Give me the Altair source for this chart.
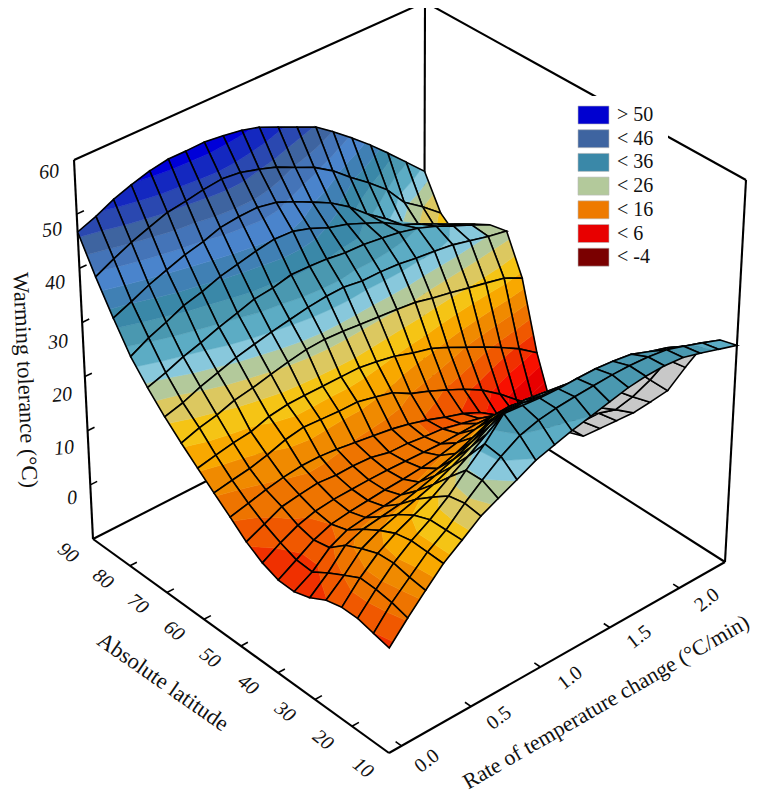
import altair as alt
import numpy as np

W, H = 755, 785

latitudes = [90, 85.8, 81.6, 77.4, 73.2, 68.9, 64.7, 60.5, 56.3, 52.1, 47.9, 43.7, 39.5, 35.3, 31.1, 26.8, 22.6, 18.4, 14.2, 10]
rates = [-0.09, 0.04, 0.165, 0.29, 0.42, 0.55, 0.67, 0.80, 0.93, 1.06, 1.18, 1.31, 1.44, 1.57, 1.69, 1.82, 1.95, 2.07, 2.20, 2.33]

row_00 = [46.7,48,49.6,50.8,51.8,52.4,52.4,52.5,52.1,51.5,50.6,49,47.4,45.8,43.4,40.6,37.6,34.6,31.2,27.8]
row_01 = [40.4,42.1,43.6,44.8,46,46.5,47.1,47.5,47.1,46.1,45,43.3,41.7,39.4,36.7,34,31,27.1,24.6,21.7]
row_02 = [34.8,36.2,37.7,38.9,40.1,40.9,42,42.4,42.5,41.8,40.4,38.7,36.9,34.5,31.7,29.1,26.2,24.2,21.5,19.2]
row_03 = [29.7,31.5,32.8,34.3,35.2,36.4,37.1,37.9,38.5,38.3,37.3,35.8,34.8,33.3,31.9,29.8,28.3,26.7,25,23.3]
row_04 = [26,27.1,28.4,29.4,30.6,31.6,32.6,33,33.8,33.7,33.5,33,32.9,32.4,31.9,31,29.7,28.2,26.7,25]
row_05 = [22.7,23.6,24.9,25.9,27,27.8,28.5,29.1,29.7,30.1,30.2,29.7,29.7,29.5,29,28.6,28.1,27.3,26.4,25.7]
row_06 = [19.9,21,21.7,22.8,23.4,24.2,24.9,25.5,25.7,25.5,25.2,24.9,24.6,24.2,23.4,22.7,21.9,21.2,20.4,18.7]
row_07 = [17.3,18,18.6,19,20.1,20.6,20.7,20.7,20.7,20.7,20.2,19.5,18.4,17.5,16.1,14.4,12.7,11,9,6.5]
row_08 = [14.8,15.4,15.9,16.7,17.8,18.4,18.2,18,18,17.2,16.4,14.5,13.2,11.7,10.2,8.3,5.8,3.1,0.4,-2]
row_09 = [12.4,13.2,14,14.6,15,15,14.7,14.2,13.7,13.2,12.5,11.5,10.3,9.2,7.8,5.5,3.8,1,-2,-4.6]
row_10 = [9.9,11.4,12.9,13.4,13.8,13.5,13.6,13.4,12.6,12.5,12.1,11.8,11,10.2,9.2,7.7,5.6,3.1,0.1,-3.5]
row_11 = [8.1,10,11.5,12.4,12.8,12.9,13,13,12.9,12.8,12.7,12.8,12.9,12.6,11.5,9.5,7.5,5,2.9,-0.2]
row_12 = [7,8.9,10.8,12,12.5,12.8,13.1,13.3,13.6,14.1,14.8,15.5,16.3,16.3,14.5,12.3,10,8,6.3,3.1]
row_13 = [6.9,8.7,11.4,12.9,13.4,13.7,14.1,14.7,15.4,16.4,17.7,19.2,19.9,19.2,17.2,14.9,13,11,8.8,6.4]
row_14 = [7.8,10.5,13.8,15,15.5,16,16.8,17.8,19,20.5,22.2,23.1,22.8,22,21,19,17.5,16,13,10.2]
row_15 = [9.4,12.1,15.2,16.8,17.9,18.9,19.9,21.4,23.1,25.1,26.6,26.6,26.1,25.6,25.1,24.1,23.1,21.9,18,14.2]
row_16 = [10.1,13.6,16.3,18.2,19.7,21.2,23.2,25.2,27.5,29.7,29.7,29.2,28.7,28.2,28,27.7,26.7,25.7,23.5,20.3]
row_17 = [10.1,13.5,16.5,18.8,20.8,23.3,26.3,29.3,33,32.7,32.4,32.3,32.4,32.4,32.1,31.6,30.3,29.3,27.8,26.1]
row_18 = [9.4,13.1,15.9,18.7,20.9,23.9,26.4,28.9,30.9,31.9,32.4,32.7,32.9,33.1,33.1,32.9,32.4,31.4,30.2,28.9]
row_19 = [8.75,12.3,15.5,18.6,21,23.5,25,26.6,28.3,29.3,30.2,31,31.8,32.6,33,33.1,32.8,31.9,30.8,29.7]
surface = [row_00,row_01,row_02,row_03,row_04,row_05,row_06,row_07,row_08,row_09,
           row_10,row_11,row_12,row_13,row_14,row_15,row_16,row_17,row_18,row_19]

band_edges = [-20,-4,-1,2,4.5,7,9.5,12,14.5,17,19.5,22,24.5,26.5,28.5,31,33.5,36,38.5,41,43.5,46,48.5,51,90]
band_colors = ["#7a0000","#d80000","#e00000","#e80000","#f81000","#f03000","#f05800","#ee7400","#f08a00",
               "#f8a800","#f5c415","#dcc860","#b3c99b","#88c8dc","#5cacc4","#4a98b0","#3a88a8","#4080b4",
               "#4a84cc","#4474b8","#3e64a0","#2a48b0","#1428c0","#0000d8"]
underside = "#c8c8c8"

z_ticks = [0, 10, 20, 30, 40, 50]
lat_ticks = [20, 30, 40, 50, 60, 70, 80]
rate_ticks = [0.0, 0.5, 1.0, 1.5, 2.0]

legend_labels = ["> 50", "< 46", "< 36", "< 26", "< 16", "< 6", "< -4"]
legend_colors = ["#0000d0", "#3e64a0", "#3a88a8", "#b3c99b", "#ee7a00", "#e80000", "#7a0000"]

# the eight corners of the box as they lie on the page: (rate end, latitude end, z end)
rate_lo, rate_hi = -0.09, 2.33
lat_lo, lat_hi = 10, 90
z_lo, z_hi = -10, 60
corner = {(0,0,0):(389,753),(1,0,0):(725,562),(0,1,0):(93,539),(1,1,0):(424,370),
          (0,0,1):(390,361),(1,0,1):(746,180),(0,1,1):(74,160),(1,1,1):(425,2)}

def proj(rate, lat, z):
    u = (rate-rate_lo)/(rate_hi-rate_lo); v = (lat-lat_lo)/(lat_hi-lat_lo); w = (z-z_lo)/(z_hi-z_lo)
    x = y = 0.0
    for (a, b, c), (px, py) in corner.items():
        f = (u if a else 1-u)*(v if b else 1-v)*(w if c else 1-w)
        x += f*(px-8); y += f*(py-8)
    return [x, y]

def feature(kind, coords, fill, stroke, sw):
    return {"type":"Feature","geometry":{"type":kind,"coordinates":coords},
            "properties":{"fill":fill,"stroke":stroke,"sw":sw}}

def line(a, b_, sw=2.1):
    return feature("LineString",[proj(*a),proj(*b_)],"none","#000000",sw)

features = []
box = [((rate_lo,lat_hi,z_lo),(rate_lo,lat_hi,z_hi)),((rate_lo,lat_hi,z_hi),(rate_hi,lat_hi,z_hi)),
       ((rate_hi,lat_hi,z_hi),(rate_hi,lat_lo,z_hi)),((rate_hi,lat_lo,z_hi),(rate_hi,lat_lo,z_lo)),
       ((rate_hi,lat_hi,z_lo),(rate_hi,lat_hi,z_hi)),((rate_lo,lat_hi,z_lo),(rate_hi,lat_hi,z_lo)),
       ((rate_hi,lat_hi,z_lo),(rate_hi,lat_lo,z_lo)),((rate_lo,lat_lo,z_lo),(rate_hi,lat_lo,z_lo)),
       ((rate_lo,lat_lo,z_lo),(rate_lo,lat_hi,z_lo))]
features += [line(a, c) for a, c in box]
for v in z_ticks:
    features.append(line((rate_lo,lat_hi,v),(rate_lo+0.05,lat_hi,v),1.6))
for v in lat_ticks:
    features.append(line((rate_lo,v,z_lo),(rate_lo+0.05,v,z_lo),1.6))
for v in rate_ticks:
    features.append(line((v,lat_lo,z_lo),(v,lat_lo+1.6,z_lo),1.6))

def clip(poly, lo, hi):
    def cut(pts, keep, level):
        out = []
        for k in range(len(pts)):
            p, q = pts[k], pts[(k+1) % len(pts)]
            kp, kq = keep(p[2]), keep(q[2])
            if kp:
                out.append(p)
            if kp != kq:
                f = (level-p[2])/(q[2]-p[2])
                out.append([p[0]+f*(q[0]-p[0]), p[1]+f*(q[1]-p[1]), level])
        return out
    pts = cut(poly, lambda z: z >= lo, lo)
    return cut(pts, lambda z: z <= hi, hi) if pts else []

def signed(q):
    return sum(q[k][0]*q[(k+1)%4][1]-q[(k+1)%4][0]*q[k][1] for k in range(4))

flat = [proj(rate_lo,lat_hi,0),proj(rate_hi,lat_hi,0),proj(rate_hi,lat_lo,0),proj(rate_lo,lat_lo,0)]
up = np.sign(signed(flat))
mesh = 1.6

for j in range(len(latitudes)-1):
    for i in range(len(rates)-2, -1, -1):
        idx = [(j,i),(j,i+1),(j+1,i+1),(j+1,i)]
        q = [proj(rates[c], latitudes[r], surface[r][c])+[surface[r][c]] for r, c in idx]
        ring = [[p[0],p[1]] for p in q]
        if np.sign(signed(q)) != up:
            features.append(feature("Polygon",[ring+[ring[0]]],underside,"#000000",mesh))
            continue
        for k, col in enumerate(band_colors):
            pts = clip(q, band_edges[k], band_edges[k+1])
            if len(pts) >= 3:
                r_ = [[p[0],p[1]] for p in pts]
                features.append(feature("Polygon",[r_+[r_[0]]],col,col,0.5))
        features.append(feature("Polygon",[ring+[ring[0]]],"none","#000000",mesh))

shape = alt.Chart(alt.Data(values=features)).mark_geoshape().encode(
    fill=alt.Fill("properties.fill:N", scale=None, legend=None),
    stroke=alt.Stroke("properties.stroke:N", scale=None, legend=None),
    strokeWidth=alt.StrokeWidth("properties.sw:Q", scale=None, legend=None),
).project(type="identity", scale=1, translate=[0, 0])

xs = alt.Scale(domain=[0, W], range=[0, W])
ys = alt.Scale(domain=[0, H], range=[0, H])

def texts(rows, italic=False, align="center"):
    data = [{"t":t,"x":x-8,"y":y-8,"a":a%360,"s":s} for t,x,y,a,s in rows]
    return alt.Chart(alt.Data(values=data)).mark_text(
        font="Liberation Serif", align=align, baseline="middle", color="#111111",
        fontStyle="italic" if italic else "normal"
    ).encode(
        x=alt.X("x:Q", scale=xs, axis=None), y=alt.Y("y:Q", scale=ys, axis=None),
        text="t:N", angle=alt.Angle("a:Q", scale=None), size=alt.Size("s:Q", scale=None, legend=None))

z_label_xy = [(72,498),(64,448),(62,395),(58,342),(55,283),(52,230),(49,172)]
z_rows = [(str(v),x,y,-6,20) for v,(x,y) in zip([0,10,20,30,40,50,60],z_label_xy)]
lat_label_xy = [(363,768),(323,740),(285,712),(248,685),(210,658),(174,631),(138,604),(103,579),(68,553)]
lat_rows = [(str(v),x,y,38,20) for v,(x,y) in zip([10,20,30,40,50,60,70,80,90],lat_label_xy)]
rate_label_xy = [(427,761),(499,718),(570,678),(639,637),(707,600)]
rate_rows = [(f"{v:.1f}",x,y,-38,20) for v,(x,y) in zip(rate_ticks,rate_label_xy)]
titles = [("Warming tolerance (°C)",25,380,87.5,22.5),("Absolute latitude",163,682,35,22.5),
          ("Rate of temperature change (°C/min)",606,702,-30,22)]
leg_rows = [(t,617,115+23.7*k,0,20) for k,t in enumerate(legend_labels)]

leg_back = alt.Chart(alt.Data(values=[{"x":570-8,"x2":668-8,"y":96-8,"y2":270-8}])).mark_rect(color="white").encode(
    x=alt.X("x:Q", scale=xs, axis=None), x2="x2:Q", y=alt.Y("y:Q", scale=ys, axis=None), y2="y2:Q")
leg_data = [{"x":578-8,"x2":609-8,"y":106-8+23.7*k,"y2":124-8+23.7*k,"c":c} for k,c in enumerate(legend_colors)]
swatches = alt.Chart(alt.Data(values=leg_data)).mark_rect(stroke="#b8b8b8", strokeWidth=0.6).encode(
    x=alt.X("x:Q", scale=xs, axis=None), x2="x2:Q", y=alt.Y("y:Q", scale=ys, axis=None), y2="y2:Q",
    fill=alt.Fill("c:N", scale=None, legend=None))

chart = alt.layer(shape, leg_back, swatches, texts(z_rows, True), texts(lat_rows, True), texts(rate_rows),
                  texts(titles), texts(leg_rows, align="left")).properties(
    width=W, height=H, padding=0, autosize=alt.AutoSizeParams(type="none")
).configure_view(stroke=None)

chart.save("out.html", embed_options={"renderer": "svg", "actions": False})
